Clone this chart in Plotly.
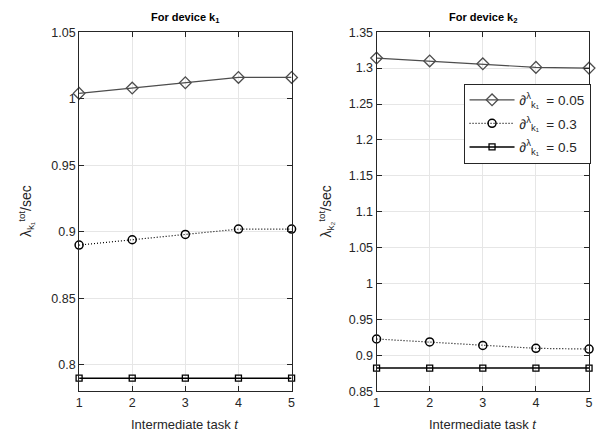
import plotly.graph_objects as go

tasks = [1, 2, 3, 4, 5]

# Device k1
k1_d005 = [1.004, 1.008, 1.012, 1.016, 1.016]
k1_d03 = [0.890, 0.894, 0.898, 0.902, 0.902]
k1_d05 = [0.790, 0.790, 0.790, 0.790, 0.790]

# Device k2
k2_d005 = [1.314, 1.310, 1.306, 1.301, 1.300]
k2_d03 = [0.923, 0.919, 0.914, 0.910, 0.909]
k2_d05 = [0.8825, 0.8825, 0.8825, 0.8825, 0.8825]

legend_names = [
    "∂<sup>λ</sup><sub>k₁</sub>  = 0.05",
    "∂<sup>λ</sup><sub>k₁</sub>  = 0.3",
    "∂<sup>λ</sup><sub>k₁</sub>  = 0.5",
]

W, H = 597, 443
FONT = "Liberation Sans, Helvetica, Arial, sans-serif"
TXT = "#262626"

fig = go.Figure()

styles = [
    dict(line=dict(color="#4d4d4d", width=1.2, dash="solid"),
         marker=dict(symbol="diamond-open", size=9, color="#4d4d4d", line=dict(width=1.3))),
    dict(line=dict(color="#000000", width=1.2, dash="1px,2px"),
         marker=dict(symbol="circle-open", size=8, color="#000000", line=dict(width=1.5))),
    dict(line=dict(color="#000000", width=1.5, dash="solid"),
         marker=dict(symbol="square-open", size=6, color="#000000", line=dict(width=1.3))),
]

for i, ys in enumerate([k1_d005, k1_d03, k1_d05]):
    fig.add_trace(go.Scatter(x=tasks, y=ys, mode="lines+markers", showlegend=False,
                             xaxis="x", yaxis="y", cliponaxis=False, **styles[i]))
for i, ys in enumerate([k2_d005, k2_d03, k2_d05]):
    fig.add_trace(go.Scatter(x=tasks, y=ys, mode="lines+markers", name=legend_names[i],
                             legendgroup="g%d" % i,
                             showlegend=True, xaxis="x2", yaxis="y2", cliponaxis=False, **styles[i]))

ydom = [46 / H, 417 / H]
axis_common = dict(
    showline=True, linecolor=TXT, linewidth=1, mirror="ticks",
    ticks="inside", ticklen=5, tickcolor=TXT, tickwidth=1,
    showgrid=True, gridcolor="#e6e6e6", gridwidth=1,
    zeroline=False,
    tickfont=dict(family=FONT, size=12.5, color=TXT),
)

fig.update_layout(
    width=W, height=H,
    margin=dict(l=0, r=0, t=0, b=0),
    plot_bgcolor="white", paper_bgcolor="white",
    xaxis=dict(domain=[77 / W, 292 / W], range=[1, 5], tickvals=tasks, anchor="y", **axis_common),
    yaxis=dict(domain=ydom, range=[0.78, 1.05], dtick=0.05, anchor="x", **axis_common),
    xaxis2=dict(domain=[378 / W, 593 / W], range=[1, 5], tickvals=tasks, anchor="y2", **axis_common),
    yaxis2=dict(domain=ydom, range=[0.85, 1.35], dtick=0.05, anchor="x2", **axis_common),
    legend=dict(x=466 / W, y=1 - 79 / H, xanchor="left", yanchor="top",
                bgcolor="white", bordercolor=TXT, borderwidth=1,
                font=dict(family=FONT, size=13.5, color=TXT),
                tracegroupgap=3, itemwidth=45),
    showlegend=True,
)

ann = []
for cx, t in [((77 + 292) / 2 / W, "<b>For device k<sub>1</sub></b>"),
              ((378 + 593) / 2 / W, "<b>For device k<sub>2</sub></b>")]:
    ann.append(dict(x=cx, y=1 - 11 / H, xref="paper", yref="paper", text=t, showarrow=False,
                    xanchor="center", yanchor="middle", font=dict(family=FONT, size=11, color="#000")))
    ann.append(dict(x=cx, y=1 - 431 / H, xref="paper", yref="paper", text="Intermediate task <i>t</i>",
                    showarrow=False, xanchor="center", yanchor="middle",
                    font=dict(family=FONT, size=13, color=TXT)))
for px, t in [(24, "λ<sub>k₁</sub><sup>tot</sup>/sec"),
              (327, "λ<sub>k₂</sub><sup>tot</sup>/sec")]:
    ann.append(dict(x=px / W, y=1 - 211 / H, xref="paper", yref="paper", text=t, showarrow=False,
                    textangle=-90, xanchor="center", yanchor="middle",
                    font=dict(family=FONT, size=14, color=TXT)))
fig.update_layout(annotations=ann)

fig.write_html("out.html", config={"displayModeBar": False},
               post_script="document.body.style.margin='0';")
